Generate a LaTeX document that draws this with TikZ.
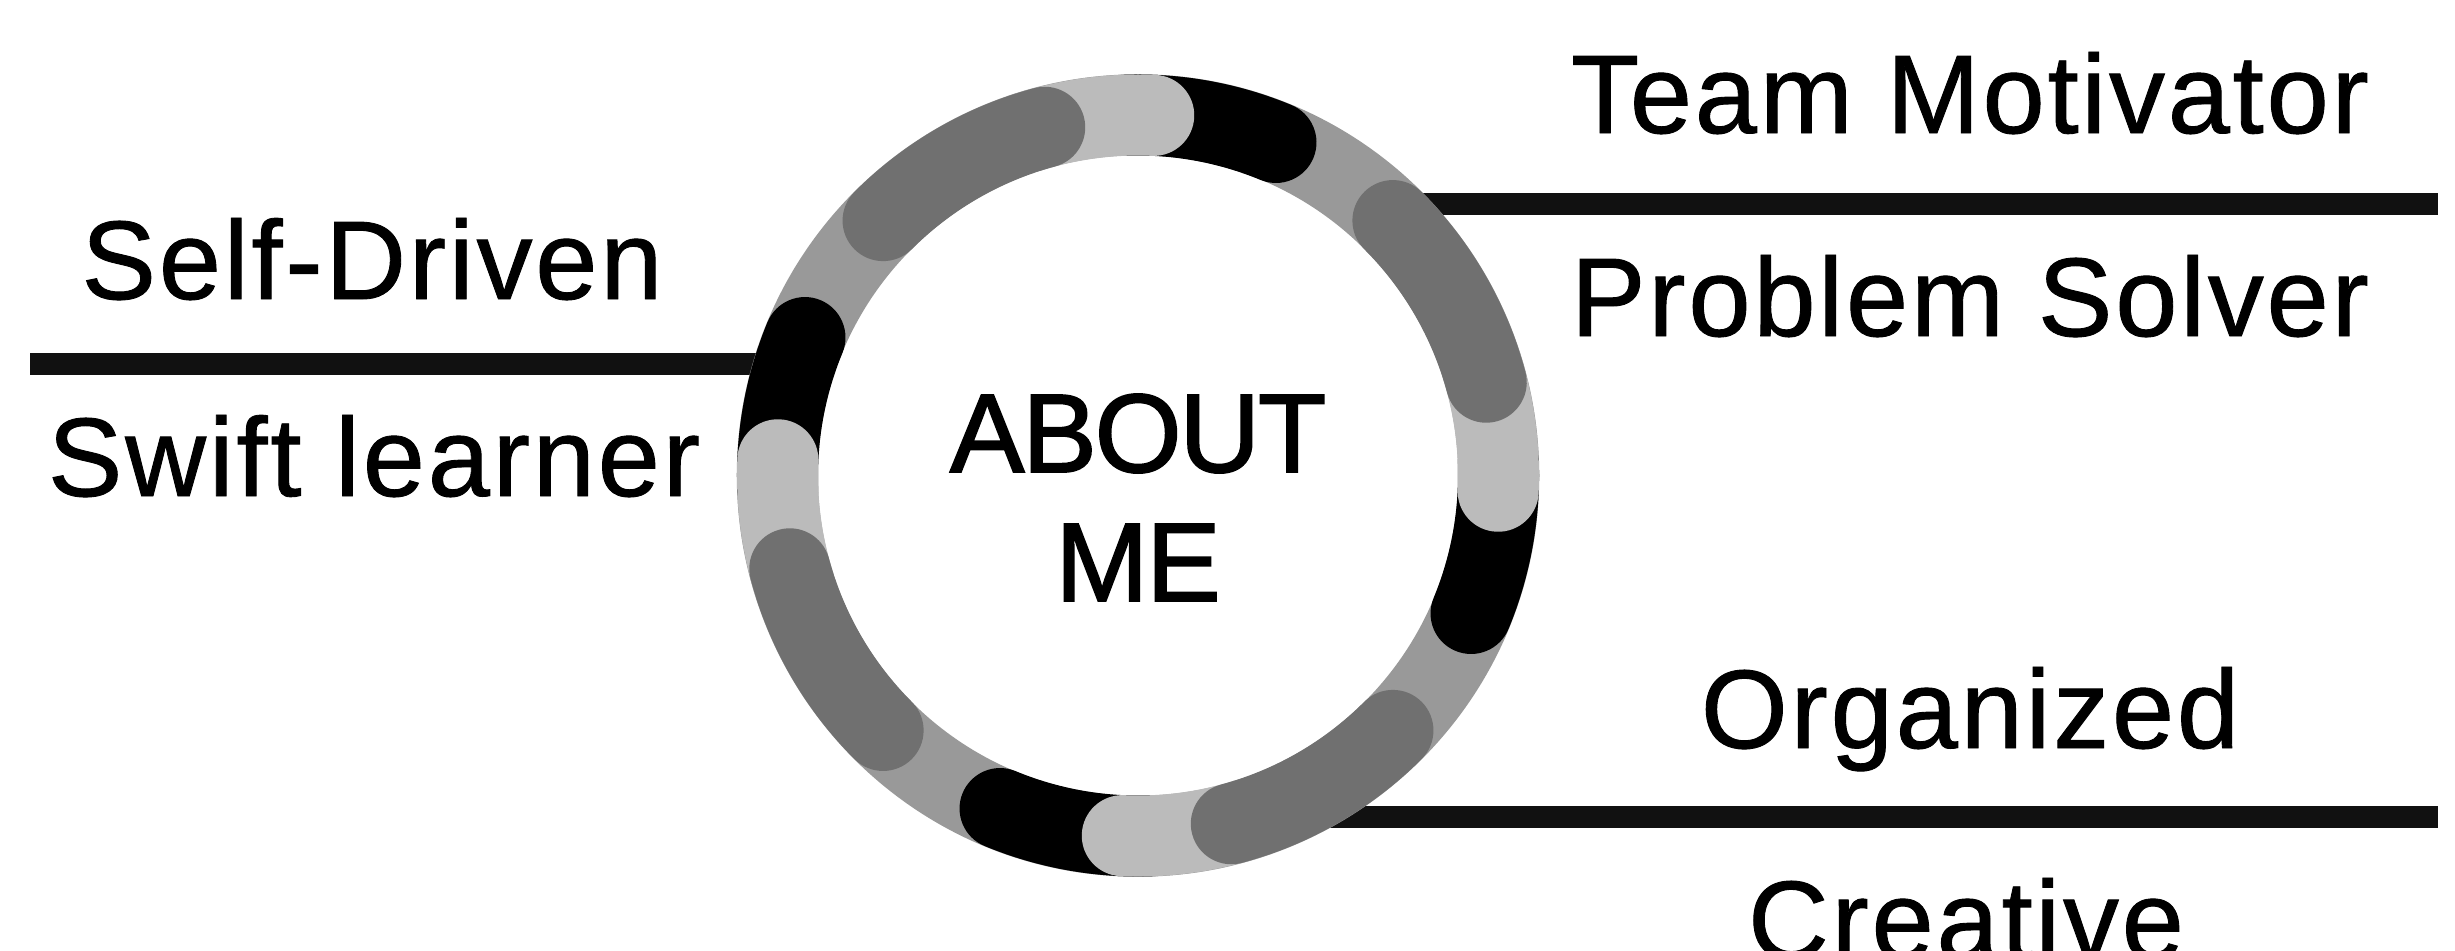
\documentclass[tikz,border=0pt]{standalone}
\usepackage{fontspec}
\setmainfont{Liberation Sans}
\definecolor{ringbase}{HTML}{999999}
\definecolor{segdark}{HTML}{707070}
\definecolor{seglight}{HTML}{BBBBBB}
\definecolor{linecol}{HTML}{111111}
\begin{document}
\begin{tikzpicture}[x=0.01cm,y=0.01cm,
  lbl/.style={font=\fontsize{31.8pt}{38pt}\selectfont\addfontfeature{LetterSpace=2.5,FakeBold=0.8}, anchor=base, inner sep=0pt},
  ctr/.style={font=\fontsize{31.8pt}{38pt}\selectfont\addfontfeature{LetterSpace=-2,FakeBold=1.6}, anchor=base, inner sep=0pt},
  bar/.style={line width=0.22cm, draw=linecol},
  seg/.style={line width=0.81cm, line cap=round},
  ringstyle/.style={circle, draw=ringbase, line width=0.81cm, minimum size=7.21cm, inner sep=0pt}]
\useasboundingbox[fill=white] (0,0) rectangle (2455,950);
% connector bars
\coordinate (l1a) at (30,586.5);
\coordinate (l1b) at (795,586.5);
\coordinate (r1a) at (1370,746.5);
\coordinate (r1b) at (2438,746.5);
\coordinate (r2a) at (1250,133);
\coordinate (r2b) at (2438,133);
\draw[bar] (l1a) -- (l1b);
\draw[bar] (r1a) -- (r1b);
\draw[bar] (r2a) -- (r2b);
% ring
\node[ringstyle] (ring) at (1138,474.5) {};
\foreach \k in {0,1,2,3} {
  \pgfmathsetmacro\b{67.5+90*\k}
  \draw[seg, black] (ring.center) ++(\b:360.5) arc[start angle=\b, end angle=\b+24.5, radius=360.5];
}
\foreach \k in {0,1,2,3} {
  \pgfmathsetmacro\b{87.5+90*\k}
  \draw[seg, seglight] (ring.center) ++(\b:360.5) arc[start angle=\b, end angle=\b+20, radius=360.5];
}
\foreach \k in {0,1,2,3} {
  \pgfmathsetmacro\b{105+90*\k}
  \draw[seg, segdark] (ring.center) ++(\b:360.5) arc[start angle=\b, end angle=\b+30, radius=360.5];
}
% centre text
\node[ctr] (about) at (1138,478) {ABOUT};
\node[ctr] (me) at (1138,349) {ME};
% labels
\node[lbl] (selfdriven) at (372,651) {Self-Driven};
\node[lbl] (swift) at (374,454) {Swift learner};
\node[lbl] (team) at (1970,817) {Team Motivator};
\node[lbl] (problem) at (1970,614) {Problem Solver};
\node[lbl] (organized) at (1970,202) {Organized};
\node[lbl] (creative) at (1966,-9) {Creative};
\end{tikzpicture}
\end{document}
